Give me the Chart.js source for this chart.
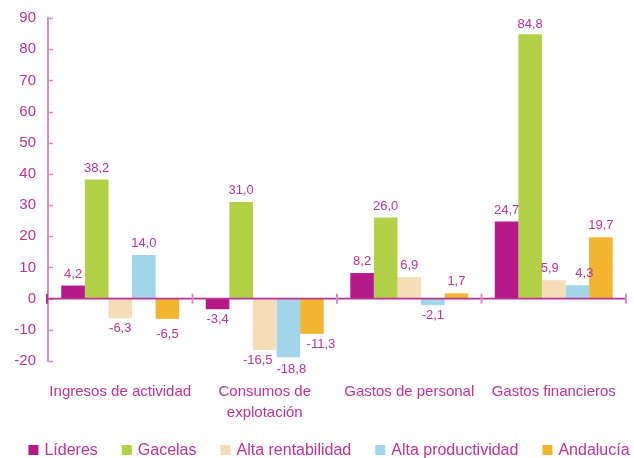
<!DOCTYPE html>
<html>
<head>
<meta charset="utf-8">
<script src="https://cdn.jsdelivr.net/npm/chart.js@4.4.1/dist/chart.umd.min.js"></script>
<style>
  html, body { margin: 0; padding: 0; background: #ffffff; }
  #wrap { width: 634px; height: 458px; position: relative; }
</style>
</head>
<body>
<div id="wrap"><canvas id="c" width="634" height="458"></canvas></div>
<script>
const categories = ["Ingresos de actividad", ["Consumos de", "explotación"], "Gastos de personal", "Gastos financieros"];
const seriesNames = ["Líderes", "Gacelas", "Alta rentabilidad", "Alta productividad", "Andalucía"];
const lideres = [4.2, -3.4, 8.2, 24.7];
const gacelas = [38.2, 31.0, 26.0, 84.8];
const altaRentabilidad = [-6.3, -16.5, 6.9, 5.9];
const altaProductividad = [14.0, -18.8, -2.1, 4.3];
const andalucia = [-6.5, -11.3, 1.7, 19.7];
const seriesColors = ["#b5198a", "#b3d147", "#f5ddba", "#a1d6ea", "#f3b52f"];
const yMin = -20, yMax = 90, yStep = 10;

// label nudges (series,category -> [dx, dy]) to avoid overlapping value labels
const labelNudge = { "2,1": [-7, 0], "3,1": [3, 2], "4,1": [9, 0], "2,3": [-4, 0], "3,3": [7, 0], "4,0": [0, 5], "1,3": [0, 2] };

const TEXT = "#c2319a";
const AXIS = "#d98dc4";
const ZERO = "#b8329a";
const FONT = "'Liberation Sans', Arial, sans-serif";

const seriesValues = [lideres, gacelas, altaRentabilidad, altaProductividad, andalucia];

const fmt = v => v.toFixed(1).replace('.', ',');

const decorPlugin = {
  id: 'decor',
  afterDatasetsDraw(chart) {
    const ctx = chart.ctx;
    const area = chart.chartArea;
    const x = chart.scales.x, y = chart.scales.y;
    const y0 = y.getPixelForValue(0);
    ctx.save();
    // inward y tick marks
    ctx.strokeStyle = AXIS;
    ctx.lineWidth = 1.5;
    y.ticks.forEach(t => {
      const py = Math.round(y.getPixelForValue(t.value)) + 0.5;
      ctx.beginPath();
      ctx.moveTo(area.left, py);
      ctx.lineTo(area.left + 5, py);
      ctx.stroke();
    });
    // zero line
    ctx.strokeStyle = ZERO;
    ctx.lineWidth = 1.6;
    ctx.beginPath();
    ctx.moveTo(area.left, y0);
    ctx.lineTo(area.right, y0);
    ctx.stroke();
    // category boundary marks
    const n = categories.length;
    const bounds = [];
    for (let i = 0; i <= n; i++) {
      if (i === 0) bounds.push(area.left);
      else if (i === n) bounds.push(area.right);
      else bounds.push((x.getPixelForValue(i - 1) + x.getPixelForValue(i)) / 2);
    }
    bounds.forEach((bx, i) => {
      ctx.strokeStyle = i === 0 ? ZERO : AXIS;
      ctx.lineWidth = 2;
      ctx.beginPath();
      ctx.moveTo(i === 0 ? bx - 1 : bx, y0 - 5);
      ctx.lineTo(i === 0 ? bx - 1 : bx, y0 + 5);
      ctx.stroke();
    });
    // value labels
    ctx.fillStyle = TEXT;
    ctx.font = "13px " + FONT;
    ctx.textAlign = 'center';
    chart.data.datasets.forEach((ds, di) => {
      const meta = chart.getDatasetMeta(di);
      meta.data.forEach((bar, i) => {
        const v = ds.data[i];
        const nd = labelNudge[di + "," + i] || [0, 0];
        if (v >= 0) {
          ctx.textBaseline = 'alphabetic';
          ctx.fillText(fmt(v), bar.x + nd[0], bar.y - 8 + nd[1]);
        } else {
          ctx.textBaseline = 'top';
          ctx.fillText(fmt(v), bar.x + nd[0], bar.y + 4 + nd[1]);
        }
      });
    });
    ctx.restore();
  },
  afterDraw(chart) {
    // legend drawn from dataset labels and colours
    const ctx = chart.ctx;
    ctx.save();
    ctx.font = "16px " + FONT;
    ctx.textBaseline = 'middle';
    ctx.textAlign = 'left';
    const box = 10, gapText = 6, gapItem = 24;
    const items = chart.data.datasets.map(ds => ({ text: ds.label, color: ds.backgroundColor, w: ctx.measureText(ds.label).width }));
    const total = items.reduce((s, it) => s + box + gapText + it.w, 0) + gapItem * (items.length - 1);
    let cx = 329 - total / 2;
    const cy = 450;
    items.forEach(it => {
      ctx.fillStyle = it.color;
      ctx.fillRect(cx, cy - box / 2, box, box);
      ctx.fillStyle = TEXT;
      ctx.fillText(it.text, cx + box + gapText, cy + 1);
      cx += box + gapText + it.w + gapItem;
    });
    ctx.restore();
  }
};

new Chart(document.getElementById('c'), {
  type: 'bar',
  data: {
    labels: categories,
    datasets: seriesNames.map((name, i) => ({
      label: name,
      data: seriesValues[i],
      backgroundColor: seriesColors[i],
      borderWidth: 0,
      categoryPercentage: 0.816,
      barPercentage: 1.0
    }))
  },
  options: {
    responsive: false,
    animation: false,
    devicePixelRatio: 1,
    layout: { padding: { top: 18, right: 8, left: 0, bottom: 35 } },
    plugins: {
      legend: { display: false },
      tooltip: { enabled: false }
    },
    scales: {
      x: {
        grid: { display: false, drawTicks: false },
        border: { display: false },
        ticks: {
          color: TEXT,
          font: { family: FONT, size: 15, lineHeight: 1.4 },
          padding: 20,
          maxRotation: 0,
          autoSkip: false
        },
        afterFit(scale) {
          scale.height = 62;
          scale.paddingLeft = 0; scale.paddingRight = 0;
          scale.paddingTop = 0; scale.paddingBottom = 0;
        }
      },
      y: {
        min: yMin,
        max: yMax,
        grid: { display: false, drawTicks: false },
        border: { display: true, color: AXIS, width: 2 },
        ticks: {
          stepSize: yStep,
          color: TEXT,
          font: { family: FONT, size: 15 },
          padding: 12
        },
        afterFit(scale) {
          scale.width = 48;
          scale.paddingTop = 0; scale.paddingBottom = 0;
          scale.paddingLeft = 0; scale.paddingRight = 0;
        }
      }
    }
  },
  plugins: [decorPlugin]
});
</script>
</body>
</html>
